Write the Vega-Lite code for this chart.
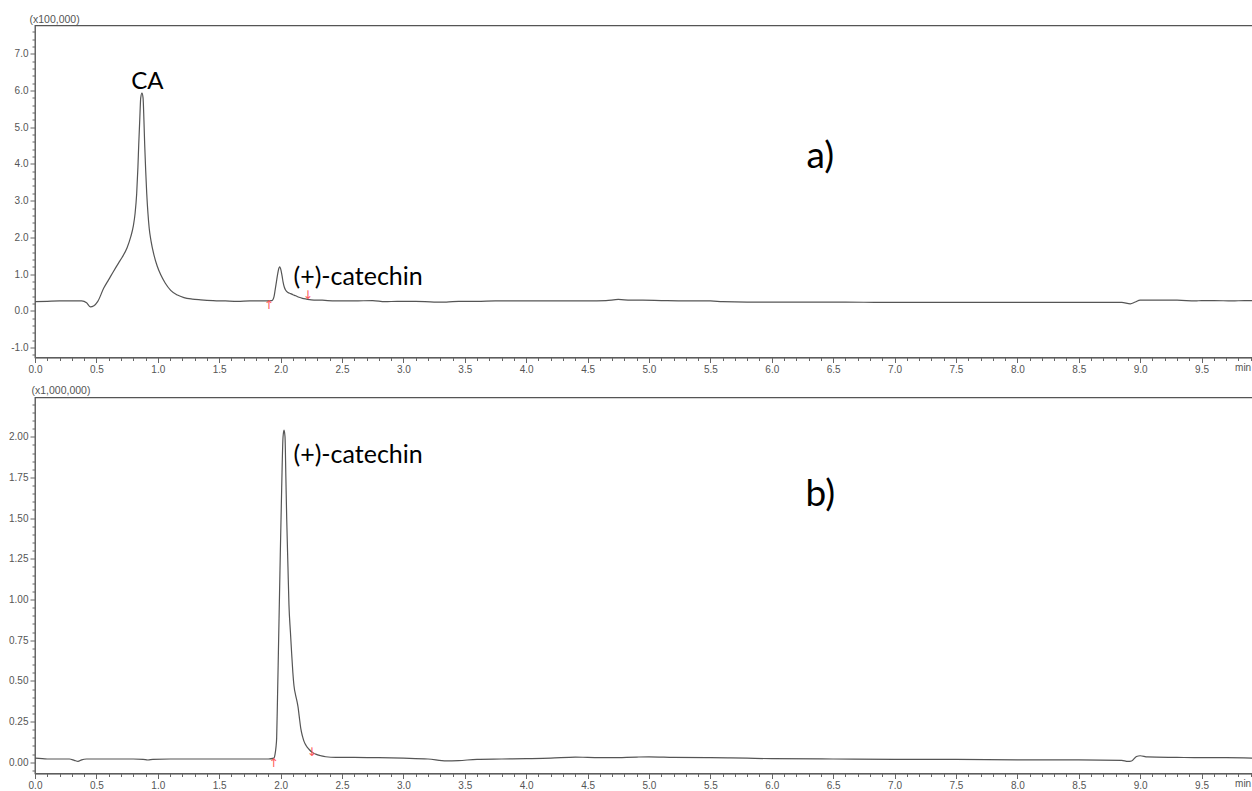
{
  "$schema": "https://vega.github.io/schema/vega-lite/v6.json",
  "background": "white",
  "padding": {"left": 7, "top": 13.5, "right": 0, "bottom": 2},
  "spacing": 40,
  "bounds": "flush",
  "config": {
    "view": {"stroke": "#555555", "strokeWidth": 1.3},
    "axis": {
      "grid": false,
      "labelFont": "Liberation Sans",
      "labelFontSize": 10,
      "labelColor": "#555555",
      "tickColor": "#666666",
      "domainColor": "#666666",
      "labelFlush": false,
      "labelOverlap": false,
      "labelPadding": 2,
      "titleFont": "Liberation Sans",
      "titleFontSize": 10.5,
      "titleFontWeight": "normal",
      "titleColor": "#555555"
    }
  },
  "datasets": {
    "a": [
      {"t": 0.00, "v": 0.25}, {"t": 0.10, "v": 0.26}, {"t": 0.20, "v": 0.27}, {"t": 0.30, "v": 0.27},
      {"t": 0.38, "v": 0.27}, {"t": 0.42, "v": 0.22}, {"t": 0.45, "v": 0.11}, {"t": 0.48, "v": 0.14},
      {"t": 0.51, "v": 0.25}, {"t": 0.56, "v": 0.62}, {"t": 0.60, "v": 0.85}, {"t": 0.64, "v": 1.08},
      {"t": 0.68, "v": 1.30}, {"t": 0.71, "v": 1.46}, {"t": 0.75, "v": 1.72}, {"t": 0.78, "v": 2.02},
      {"t": 0.80, "v": 2.30}, {"t": 0.815, "v": 2.65}, {"t": 0.828, "v": 3.19}, {"t": 0.838, "v": 3.90},
      {"t": 0.845, "v": 4.55}, {"t": 0.853, "v": 5.20}, {"t": 0.861, "v": 5.80}, {"t": 0.871, "v": 5.93},
      {"t": 0.880, "v": 5.80}, {"t": 0.887, "v": 5.20}, {"t": 0.893, "v": 4.55}, {"t": 0.901, "v": 3.85},
      {"t": 0.910, "v": 3.19}, {"t": 0.920, "v": 2.65}, {"t": 0.930, "v": 2.25}, {"t": 0.945, "v": 1.90},
      {"t": 0.969, "v": 1.52}, {"t": 0.995, "v": 1.22}, {"t": 1.024, "v": 0.98}, {"t": 1.06, "v": 0.76},
      {"t": 1.105, "v": 0.56}, {"t": 1.16, "v": 0.43}, {"t": 1.213, "v": 0.36}, {"t": 1.28, "v": 0.32},
      {"t": 1.35, "v": 0.30}, {"t": 1.45, "v": 0.28}, {"t": 1.55, "v": 0.27}, {"t": 1.65, "v": 0.26},
      {"t": 1.75, "v": 0.27}, {"t": 1.85, "v": 0.27}, {"t": 1.93, "v": 0.28}, {"t": 1.946, "v": 0.38},
      {"t": 1.956, "v": 0.58}, {"t": 1.966, "v": 0.79}, {"t": 1.975, "v": 0.98}, {"t": 1.982, "v": 1.11},
      {"t": 1.993, "v": 1.20}, {"t": 2.003, "v": 1.11}, {"t": 2.012, "v": 0.95}, {"t": 2.02, "v": 0.79},
      {"t": 2.03, "v": 0.65}, {"t": 2.042, "v": 0.56}, {"t": 2.06, "v": 0.50}, {"t": 2.082, "v": 0.47},
      {"t": 2.10, "v": 0.44}, {"t": 2.123, "v": 0.41}, {"t": 2.15, "v": 0.37}, {"t": 2.178, "v": 0.34},
      {"t": 2.21, "v": 0.32}, {"t": 2.25, "v": 0.30}, {"t": 2.34, "v": 0.29}, {"t": 2.45, "v": 0.27},
      {"t": 2.6, "v": 0.27}, {"t": 2.75, "v": 0.28}, {"t": 2.85, "v": 0.25}, {"t": 2.95, "v": 0.26},
      {"t": 3.1, "v": 0.26}, {"t": 3.25, "v": 0.24}, {"t": 3.35, "v": 0.24}, {"t": 3.45, "v": 0.26},
      {"t": 3.6, "v": 0.26}, {"t": 3.75, "v": 0.27}, {"t": 3.9, "v": 0.27}, {"t": 4.1, "v": 0.27},
      {"t": 4.3, "v": 0.27}, {"t": 4.5, "v": 0.27}, {"t": 4.65, "v": 0.28}, {"t": 4.75, "v": 0.31},
      {"t": 4.85, "v": 0.29}, {"t": 4.95, "v": 0.29}, {"t": 5.1, "v": 0.28}, {"t": 5.3, "v": 0.27},
      {"t": 5.5, "v": 0.27}, {"t": 5.6, "v": 0.25}, {"t": 5.8, "v": 0.24}, {"t": 6.0, "v": 0.24},
      {"t": 6.3, "v": 0.24}, {"t": 6.6, "v": 0.24}, {"t": 6.9, "v": 0.23}, {"t": 7.2, "v": 0.23},
      {"t": 7.5, "v": 0.23}, {"t": 7.8, "v": 0.23}, {"t": 8.1, "v": 0.23}, {"t": 8.4, "v": 0.23},
      {"t": 8.7, "v": 0.23}, {"t": 8.85, "v": 0.23}, {"t": 8.92, "v": 0.19}, {"t": 8.96, "v": 0.24},
      {"t": 9.0, "v": 0.29}, {"t": 9.1, "v": 0.29}, {"t": 9.3, "v": 0.29}, {"t": 9.45, "v": 0.27},
      {"t": 9.5, "v": 0.28}, {"t": 9.6, "v": 0.28}, {"t": 9.75, "v": 0.27}, {"t": 9.85, "v": 0.28},
      {"t": 9.93, "v": 0.28}
    ],
    "b": [
      {"t": 0.00, "v": 0.025}, {"t": 0.10, "v": 0.02}, {"t": 0.20, "v": 0.02}, {"t": 0.28, "v": 0.02},
      {"t": 0.32, "v": 0.012}, {"t": 0.35, "v": 0.005}, {"t": 0.38, "v": 0.015}, {"t": 0.42, "v": 0.02},
      {"t": 0.6, "v": 0.02}, {"t": 0.8, "v": 0.02}, {"t": 0.88, "v": 0.018}, {"t": 0.92, "v": 0.014},
      {"t": 0.96, "v": 0.018}, {"t": 1.1, "v": 0.02}, {"t": 1.3, "v": 0.02}, {"t": 1.5, "v": 0.02},
      {"t": 1.7, "v": 0.02}, {"t": 1.9, "v": 0.02}, {"t": 1.945, "v": 0.025}, {"t": 1.955, "v": 0.05},
      {"t": 1.962, "v": 0.09}, {"t": 1.968, "v": 0.15}, {"t": 1.975, "v": 0.40}, {"t": 1.982, "v": 0.67},
      {"t": 1.995, "v": 1.18}, {"t": 2.009, "v": 1.69}, {"t": 2.02, "v": 2.00}, {"t": 2.028, "v": 2.04},
      {"t": 2.036, "v": 2.00}, {"t": 2.043, "v": 1.75}, {"t": 2.05, "v": 1.49}, {"t": 2.06, "v": 1.20},
      {"t": 2.068, "v": 0.97}, {"t": 2.08, "v": 0.80}, {"t": 2.09, "v": 0.67}, {"t": 2.10, "v": 0.55},
      {"t": 2.109, "v": 0.47}, {"t": 2.123, "v": 0.41}, {"t": 2.135, "v": 0.37}, {"t": 2.142, "v": 0.34},
      {"t": 2.152, "v": 0.28}, {"t": 2.164, "v": 0.21}, {"t": 2.178, "v": 0.16}, {"t": 2.19, "v": 0.13},
      {"t": 2.21, "v": 0.10}, {"t": 2.231, "v": 0.08}, {"t": 2.26, "v": 0.06}, {"t": 2.286, "v": 0.05},
      {"t": 2.33, "v": 0.04}, {"t": 2.367, "v": 0.034}, {"t": 2.45, "v": 0.03}, {"t": 2.6, "v": 0.03},
      {"t": 2.8, "v": 0.028}, {"t": 3.0, "v": 0.025}, {"t": 3.2, "v": 0.02}, {"t": 3.35, "v": 0.008},
      {"t": 3.45, "v": 0.01}, {"t": 3.6, "v": 0.018}, {"t": 3.8, "v": 0.02}, {"t": 4.0, "v": 0.022},
      {"t": 4.2, "v": 0.025}, {"t": 4.4, "v": 0.032}, {"t": 4.5, "v": 0.03}, {"t": 4.7, "v": 0.028},
      {"t": 4.9, "v": 0.032}, {"t": 5.0, "v": 0.033}, {"t": 5.2, "v": 0.03}, {"t": 5.5, "v": 0.028},
      {"t": 5.8, "v": 0.025}, {"t": 6.0, "v": 0.022}, {"t": 6.5, "v": 0.02}, {"t": 7.0, "v": 0.018},
      {"t": 7.5, "v": 0.018}, {"t": 8.0, "v": 0.015}, {"t": 8.5, "v": 0.015}, {"t": 8.85, "v": 0.012},
      {"t": 8.9, "v": 0.005}, {"t": 8.93, "v": 0.008}, {"t": 8.97, "v": 0.035}, {"t": 9.0, "v": 0.04},
      {"t": 9.06, "v": 0.033}, {"t": 9.3, "v": 0.03}, {"t": 9.5, "v": 0.028}, {"t": 9.7, "v": 0.028},
      {"t": 9.93, "v": 0.025}
    ],
    "arrowsA": [
      {"t": 1.903, "v": 0.16, "sym": "↑"},
      {"t": 2.222, "v": 0.42, "sym": "↓"}
    ],
    "arrowsB": [
      {"t": 1.943, "v": -0.005, "sym": "↑"},
      {"t": 2.253, "v": 0.065, "sym": "↓"}
    ]
  },
  "vconcat": [
    {
      "width": 1219,
      "height": 332,
      "encoding": {
        "x": {
          "field": "t", "type": "quantitative",
          "scale": {"domain": [0, 9.927], "nice": false, "zero": false},
          "axis": {
            "title": null,
            "values": [0,0.1,0.2,0.3,0.4,0.5,0.6,0.7,0.8,0.9,1,1.1,1.2,1.3,1.4,1.5,1.6,1.7,1.8,1.9,2,2.1,2.2,2.3,2.4,2.5,2.6,2.7,2.8,2.9,3,3.1,3.2,3.3,3.4,3.5,3.6,3.7,3.8,3.9,4,4.1,4.2,4.3,4.4,4.5,4.6,4.7,4.8,4.9,5,5.1,5.2,5.3,5.4,5.5,5.6,5.7,5.8,5.9,6,6.1,6.2,6.3,6.4,6.5,6.6,6.7,6.8,6.9,7,7.1,7.2,7.3,7.4,7.5,7.6,7.7,7.8,7.9,8,8.1,8.2,8.3,8.4,8.5,8.6,8.7,8.8,8.9,9,9.1,9.2,9.3,9.4,9.5,9.6,9.7,9.8,9.9],
            "labelExpr": "datum.value > 9.85 ? 'min' : (abs(datum.value * 2 - round(datum.value * 2)) < 0.01 ? format(datum.value, '.1f') : '')",
            "tickSize": {"condition": {"test": "abs(datum.value * 2 - round(datum.value * 2)) < 0.01", "value": 5}, "value": 3},
            "labelAlign": {"condition": {"test": "datum.value > 9.85", "value": "right"}, "value": "center"}
          }
        },
        "y": {
          "field": "v", "type": "quantitative",
          "scale": {"domain": [-1.27, 7.77], "nice": false, "zero": false},
          "axis": {
            "title": "(x100,000)",
            "titleAngle": 0,
            "titleAlign": "left",
            "titleBaseline": "bottom",
            "titleX": -6,
            "titleY": -1,
            "values": [-1.2,-1,-0.8,-0.6,-0.4,-0.2,0,0.2,0.4,0.6,0.8,1,1.2,1.4,1.6,1.8,2,2.2,2.4,2.6,2.8,3,3.2,3.4,3.6,3.8,4,4.2,4.4,4.6,4.8,5,5.2,5.4,5.6,5.8,6,6.2,6.4,6.6,6.8,7,7.2,7.4,7.6],
            "labelExpr": "abs(datum.value - round(datum.value)) < 0.01 ? replace(format(datum.value, '.1f'), '−', '-') : ''",
            "tickSize": {"condition": {"test": "abs(datum.value - round(datum.value)) < 0.01", "value": 5}, "value": 3}
          }
        }
      },
      "layer": [
        {
          "data": {"name": "a"},
          "mark": {"type": "line", "color": "#555555", "strokeWidth": 1.2, "interpolate": "monotone"}
        },
        {
          "data": {"name": "arrowsA"},
          "mark": {"type": "text", "color": "#ff5a5a", "font": "DejaVu Sans", "fontSize": 12, "baseline": "middle", "align": "center"},
          "encoding": {"text": {"field": "sym"}}
        },
        {
          "data": {"values": [{"t": 0.915, "v": 6.23, "label": "CA"}]},
          "mark": {"type": "text", "color": "black", "font": "Lato", "fontSize": 24, "baseline": "middle", "align": "center"},
          "encoding": {"text": {"field": "label"}}
        },
        {
          "data": {"values": [{"t": 2.105, "v": 0.92, "label": "(+)-catechin"}]},
          "mark": {"type": "text", "color": "black", "font": "Lato", "fontSize": 25, "baseline": "middle", "align": "left"},
          "encoding": {"text": {"field": "label"}}
        },
        {
          "data": {"values": [{"t": 6.395, "v": 4.18, "label": "a)"}]},
          "mark": {"type": "text", "color": "black", "font": "Lato", "fontSize": 37, "baseline": "middle", "align": "center"},
          "encoding": {"text": {"field": "label"}}
        }
      ]
    },
    {
      "width": 1219,
      "height": 376,
      "encoding": {
        "x": {
          "field": "t", "type": "quantitative",
          "scale": {"domain": [0, 9.927], "nice": false, "zero": false},
          "axis": {
            "title": null,
            "values": [0,0.1,0.2,0.3,0.4,0.5,0.6,0.7,0.8,0.9,1,1.1,1.2,1.3,1.4,1.5,1.6,1.7,1.8,1.9,2,2.1,2.2,2.3,2.4,2.5,2.6,2.7,2.8,2.9,3,3.1,3.2,3.3,3.4,3.5,3.6,3.7,3.8,3.9,4,4.1,4.2,4.3,4.4,4.5,4.6,4.7,4.8,4.9,5,5.1,5.2,5.3,5.4,5.5,5.6,5.7,5.8,5.9,6,6.1,6.2,6.3,6.4,6.5,6.6,6.7,6.8,6.9,7,7.1,7.2,7.3,7.4,7.5,7.6,7.7,7.8,7.9,8,8.1,8.2,8.3,8.4,8.5,8.6,8.7,8.8,8.9,9,9.1,9.2,9.3,9.4,9.5,9.6,9.7,9.8,9.9],
            "labelExpr": "datum.value > 9.85 ? 'min' : (abs(datum.value * 2 - round(datum.value * 2)) < 0.01 ? format(datum.value, '.1f') : '')",
            "tickSize": {"condition": {"test": "abs(datum.value * 2 - round(datum.value * 2)) < 0.01", "value": 5}, "value": 3},
            "labelAlign": {"condition": {"test": "datum.value > 9.85", "value": "right"}, "value": "center"}
          }
        },
        "y": {
          "field": "v", "type": "quantitative",
          "scale": {"domain": [-0.069, 2.241], "nice": false, "zero": false},
          "axis": {
            "title": "(x1,000,000)",
            "titleAngle": 0,
            "titleAlign": "left",
            "titleBaseline": "bottom",
            "titleX": -4,
            "titleY": -2,
            "values": [-0.05,0,0.05,0.1,0.15,0.2,0.25,0.3,0.35,0.4,0.45,0.5,0.55,0.6,0.65,0.7,0.75,0.8,0.85,0.9,0.95,1,1.05,1.1,1.15,1.2,1.25,1.3,1.35,1.4,1.45,1.5,1.55,1.6,1.65,1.7,1.75,1.8,1.85,1.9,1.95,2,2.05,2.1,2.15,2.2],
            "labelExpr": "abs(datum.value * 4 - round(datum.value * 4)) < 0.01 ? format(datum.value, '.2f') : ''",
            "tickSize": {"condition": {"test": "abs(datum.value * 4 - round(datum.value * 4)) < 0.01", "value": 5}, "value": 3}
          }
        }
      },
      "layer": [
        {
          "data": {"name": "b"},
          "mark": {"type": "line", "color": "#555555", "strokeWidth": 1.2, "interpolate": "monotone"}
        },
        {
          "data": {"name": "arrowsB"},
          "mark": {"type": "text", "color": "#ff5a5a", "font": "DejaVu Sans", "fontSize": 12, "baseline": "middle", "align": "center"},
          "encoding": {"text": {"field": "sym"}}
        },
        {
          "data": {"values": [{"t": 2.105, "v": 1.89, "label": "(+)-catechin"}]},
          "mark": {"type": "text", "color": "black", "font": "Lato", "fontSize": 25, "baseline": "middle", "align": "left"},
          "encoding": {"text": {"field": "label"}}
        },
        {
          "data": {"values": [{"t": 6.395, "v": 1.64, "label": "b)"}]},
          "mark": {"type": "text", "color": "black", "font": "Lato", "fontSize": 37, "baseline": "middle", "align": "center"},
          "encoding": {"text": {"field": "label"}}
        }
      ]
    }
  ]
}
